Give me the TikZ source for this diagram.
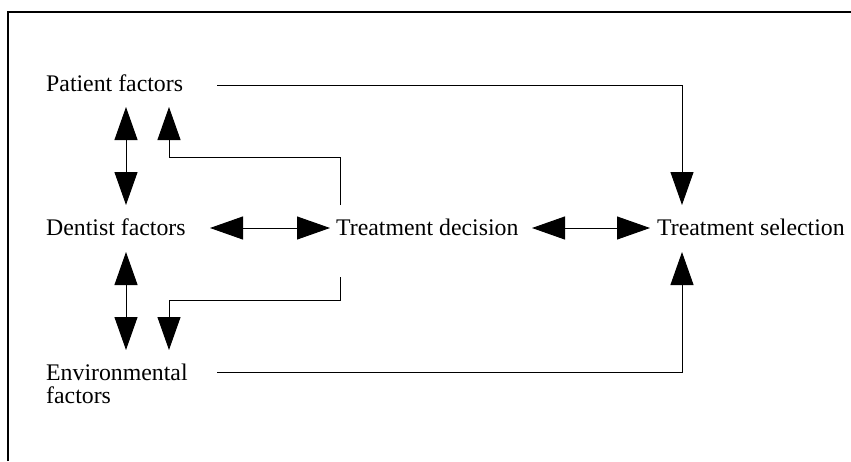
\documentclass[tikz,border=0pt]{standalone}
\usepackage{fontspec}
\setmainfont{Liberation Serif}
\usetikzlibrary{arrows.meta}
\begin{document}
\begin{tikzpicture}[x=1pt,y=-1pt,
  lbl/.style={anchor=base west,inner sep=0pt,font=\fontsize{23.8}{23}\selectfont},
  conn/.style={line width=1pt,black},
  tip/.style={conn,-{Triangle[length=33pt,width=23pt]}},
  dtip/.style={conn,{Triangle[length=33pt,width=23pt]}-{Triangle[length=33pt,width=23pt]}},
  frame/.style={line width=1.3pt,black}]
\useasboundingbox (0,0) rectangle (851,461);
\draw[frame] (8,461) -- (8,12) -- (851,12);
% labels
\node[lbl] (pf) at (46,91.5) {Patient factors};
\node[lbl] (df) at (46,235) {Dentist factors};
\node[lbl] (td) at (336,235) {Treatment decision};
\node[lbl] (ts) at (657,235) {Treatment selection};
\node[lbl] (ef) at (46,380) {\vtop{\baselineskip=23pt\hbox{Environmental}\hbox{factors}}};
% connector end points
\coordinate (pfD) at (126,107);
\coordinate (dfU) at (126,205);
\coordinate (dfD) at (126,252);
\coordinate (efU) at (126,350);
\coordinate (pfD2) at (169,107);
\coordinate (efU2) at (169,350);
\coordinate (tdU) at (340,205);
\coordinate (tdD) at (340,277);
\coordinate (dfR) at (210,228);
\coordinate (tdL) at (330,228);
\coordinate (tdR) at (532,228);
\coordinate (tsL) at (650,228);
\coordinate (pfR) at (217,85);
\coordinate (efR) at (217,372);
\coordinate (tsU) at (682,205);
\coordinate (tsD) at (682,252);
% connectors
\draw[dtip] (pfD) -- (dfU);
\draw[dtip] (dfD) -- (efU);
\draw[tip] (tdU) -- (340,157) -- (169,157) -- (pfD2);
\draw[tip] (tdD) -- (340,300) -- (169,300) -- (efU2);
\draw[dtip] (dfR) -- (tdL);
\draw[dtip] (tdR) -- (tsL);
\draw[tip] (pfR) -| (tsU);
\draw[tip] (efR) -| (tsD);
\end{tikzpicture}
\end{document}
